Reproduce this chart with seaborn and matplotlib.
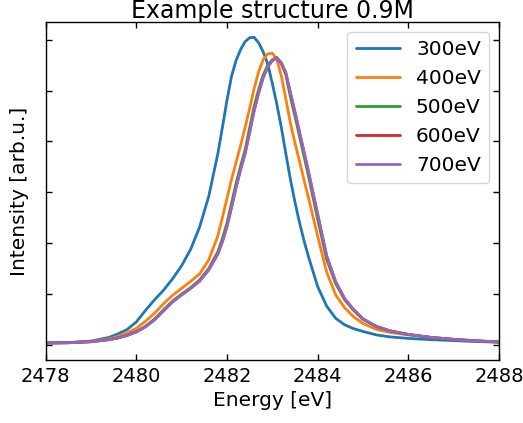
"""Normalized emission spectra for the 0.9M example structure at several excitation energies."""

import matplotlib
matplotlib.use("Agg")
import matplotlib.pyplot as plt
import pandas as pd
import seaborn as sns

# Energy grid [eV]
energy = [
    2478.0, 2478.5, 2479.0, 2479.4, 2479.6, 2479.8, 2480.0, 2480.2, 2480.4,
    2480.6, 2480.8, 2481.0, 2481.2, 2481.4, 2481.6, 2481.8, 2481.9, 2482.0,
    2482.1, 2482.2, 2482.3, 2482.4, 2482.5, 2482.6, 2482.7, 2482.8, 2482.9,
    2483.0, 2483.1, 2483.2, 2483.3, 2483.4, 2483.5, 2483.6, 2483.7, 2483.8,
    2484.0, 2484.2, 2484.4, 2484.6, 2484.8, 2485.0, 2485.3, 2485.6, 2486.0,
    2486.5, 2487.0, 2487.5, 2488.0,
]

# Intensity [arb.u.]
i_300 = [
    0.035, 0.043, 0.071, 0.144, 0.213, 0.300, 0.445, 0.670, 0.880,
    1.069, 1.295, 1.551, 1.876, 2.319, 2.919, 3.756, 4.268, 4.799,
    5.272, 5.587, 5.803, 5.961, 6.039, 6.049, 5.941, 5.764, 5.528,
    5.150, 4.740, 4.280, 3.760, 3.260, 2.810, 2.410, 2.050, 1.730,
    1.150, 0.760, 0.520, 0.390, 0.315, 0.262, 0.193, 0.154, 0.124,
    0.100, 0.081, 0.063, 0.049,
]
i_400 = [
    0.035, 0.041, 0.065, 0.118, 0.163, 0.232, 0.321, 0.459, 0.616,
    0.803, 0.970, 1.108, 1.246, 1.394, 1.669, 2.142, 2.496, 2.870,
    3.244, 3.579, 3.913, 4.268, 4.642, 5.035, 5.370, 5.606, 5.724,
    5.734, 5.622, 5.291, 4.839, 4.366, 3.972, 3.618, 3.244, 2.890,
    2.142, 1.433, 0.980, 0.724, 0.547, 0.419, 0.301, 0.242, 0.193,
    0.144, 0.108, 0.079, 0.055,
]
i_500 = [
    0.035, 0.039, 0.060, 0.102, 0.137, 0.188, 0.259, 0.360, 0.502,
    0.684, 0.858, 0.995, 1.123, 1.276, 1.500, 1.830, 2.085, 2.390,
    2.775, 3.165, 3.510, 3.830, 4.260, 4.685, 5.025, 5.305, 5.500,
    5.605, 5.650, 5.530, 5.310, 4.880, 4.500, 4.105, 3.710, 3.315,
    2.480, 1.680, 1.200, 0.880, 0.670, 0.500, 0.356, 0.270, 0.201,
    0.143, 0.104, 0.075, 0.055,
]
i_600 = [
    0.035, 0.039, 0.059, 0.100, 0.134, 0.183, 0.252, 0.350, 0.488,
    0.665, 0.843, 0.980, 1.108, 1.256, 1.472, 1.787, 2.024, 2.319,
    2.693, 3.087, 3.441, 3.756, 4.169, 4.602, 4.957, 5.252, 5.469,
    5.587, 5.646, 5.547, 5.350, 4.957, 4.583, 4.189, 3.795, 3.402,
    2.575, 1.748, 1.236, 0.902, 0.685, 0.508, 0.360, 0.272, 0.203,
    0.144, 0.104, 0.075, 0.055,
]
i_700 = [
    0.035, 0.039, 0.059, 0.100, 0.134, 0.183, 0.252, 0.350, 0.488,
    0.665, 0.843, 0.980, 1.108, 1.256, 1.472, 1.787, 2.024, 2.319,
    2.693, 3.087, 3.441, 3.756, 4.169, 4.602, 4.957, 5.252, 5.469,
    5.587, 5.646, 5.547, 5.350, 4.957, 4.583, 4.189, 3.795, 3.402,
    2.575, 1.748, 1.236, 0.902, 0.685, 0.508, 0.360, 0.272, 0.203,
    0.144, 0.104, 0.075, 0.055,
]

labels = ["300eV", "400eV", "500eV", "600eV", "700eV"]
series = [i_300, i_400, i_500, i_600, i_700]

# long-form table for seaborn
df = pd.concat(
    [pd.DataFrame({"energy": energy, "intensity": s, "excitation": lab})
     for lab, s in zip(labels, series)],
    ignore_index=True,
)

sns.set_theme(style="ticks")
plt.rcParams["font.family"] = ["DejaVu Sans"]
for key in ("text.color", "axes.labelcolor", "xtick.color", "ytick.color", "axes.edgecolor"):
    plt.rcParams[key] = "black"

fig = plt.figure(figsize=(5.23, 4.23), dpi=100)
ax = fig.add_axes([0.087, 0.149, 0.867, 0.799])

sns.lineplot(
    data=df, x="energy", y="intensity", hue="excitation",
    hue_order=labels, palette="tab10", linewidth=2, ax=ax,
)

ax.set_xlim(2478, 2488)
ax.set_ylim(-0.30, 6.35)
ax.set_xticks(range(2478, 2489, 2))
ax.set_yticks(range(0, 7))
ax.tick_params(axis="both", direction="in", top=True, right=True,
               labelleft=False, labelsize=14, length=4, width=1, pad=5)
for spine in ax.spines.values():
    spine.set_linewidth(1)

ax.set_xlabel("Energy [eV]", fontsize=14.5)
ax.set_ylabel("Intensity [arb.u.]", fontsize=14.5, labelpad=12)
ax.set_title("Example structure 0.9M", fontsize=17, pad=3)
ax.legend(loc="upper right", fontsize=14.5, title=None, frameon=True,
          handlelength=2.2)

fig.savefig("out.png", dpi=100)
plt.close(fig)
